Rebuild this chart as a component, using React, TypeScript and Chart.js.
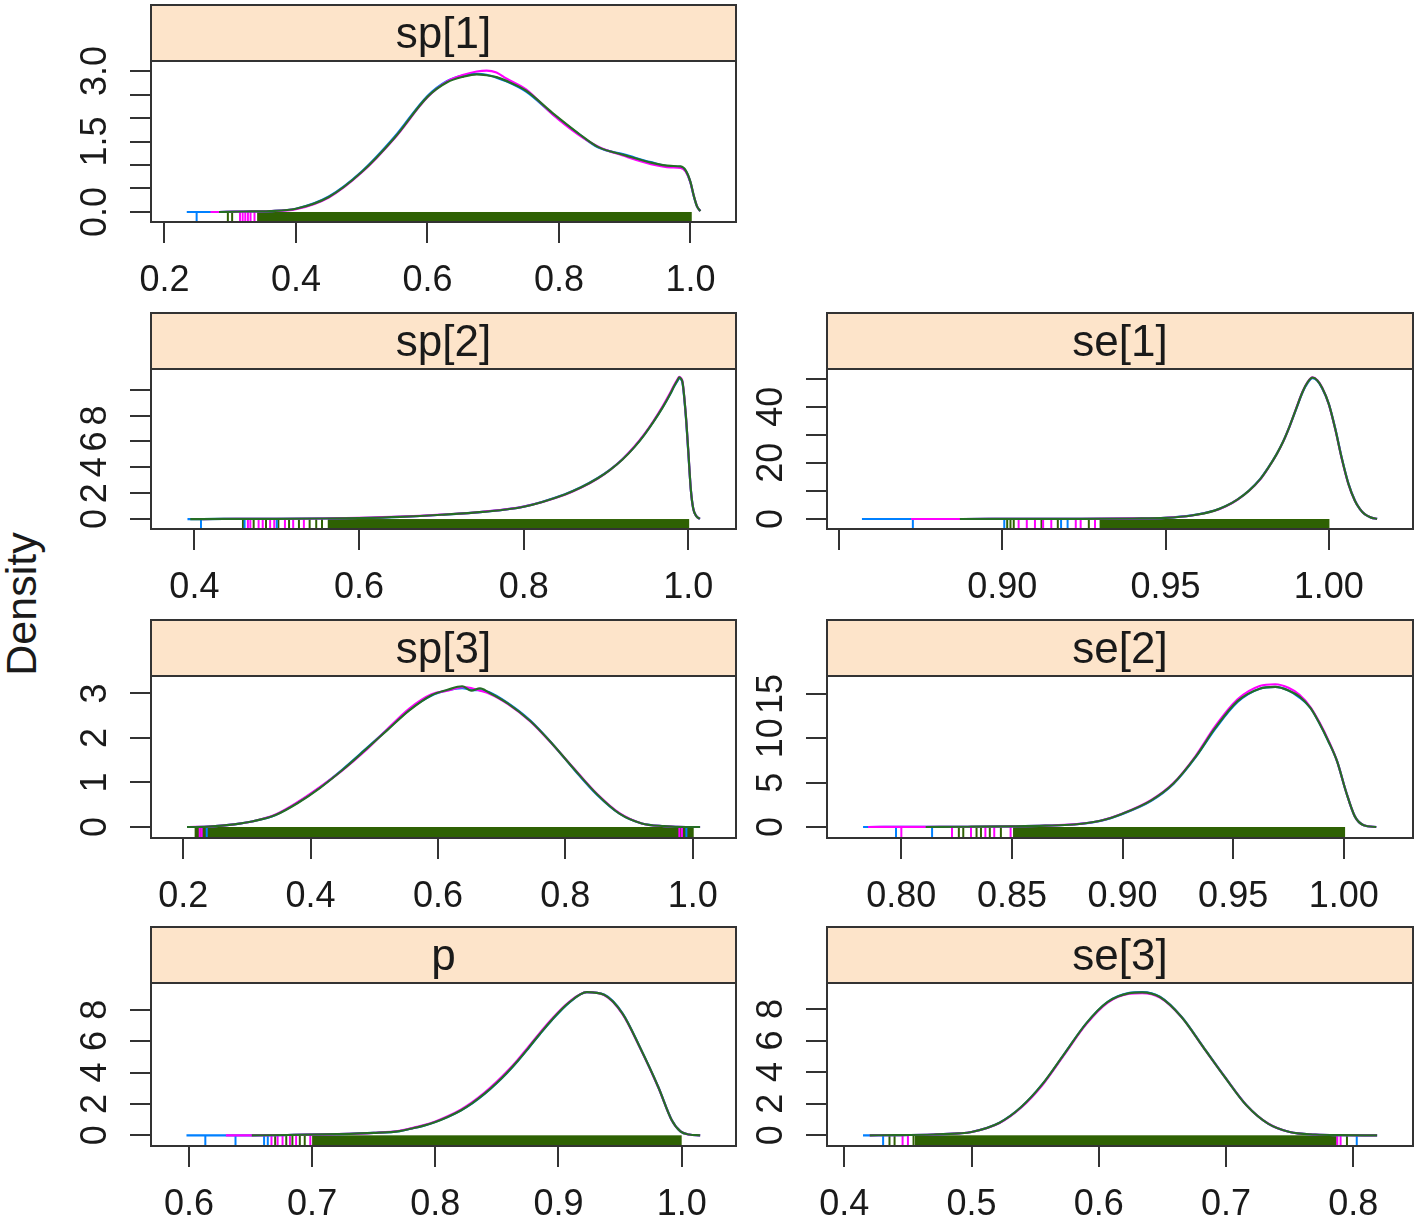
import { useEffect, useRef } from "react";
import { Chart, registerables } from "chart.js";

Chart.register(...registerables);

const FONT_FAMILY = '"Liberation Sans", Arial, Helvetica, sans-serif';

// ---------------- data: sp[1] ----------------
const SP1_X = [0.234, 0.270, 0.283, 0.320, 0.360, 0.400, 0.450, 0.500, 0.550, 0.600, 0.630, 0.655, 0.675, 0.690, 0.705, 0.720, 0.750, 0.790, 0.830, 0.860, 0.900, 0.940, 0.970, 0.985, 0.993, 1.000, 1.005, 1.010, 1.015];
const SP1_GREEN = [null, null, 0.00, 0.01, 0.02, 0.07, 0.32, 0.85, 1.58, 2.45, 2.76, 2.88, 2.93, 2.91, 2.87, 2.79, 2.58, 2.11, 1.67, 1.38, 1.21, 1.05, 0.98, 0.97, 0.88, 0.64, 0.35, 0.12, 0.02];
const SP1_BLUE = [0.00, 0.00, 0.00, 0.01, 0.02, 0.07, 0.33, 0.86, 1.60, 2.47, 2.79, 2.91, 2.94, 2.92, 2.86, 2.78, 2.56, 2.09, 1.66, 1.37, 1.22, 1.06, 0.97, 0.96, 0.87, 0.63, 0.34, 0.12, 0.02];
const SP1_MAGENTA = [null, 0.00, 0.00, 0.01, 0.02, 0.06, 0.31, 0.84, 1.57, 2.44, 2.78, 2.92, 2.99, 3.01, 2.97, 2.84, 2.61, 2.08, 1.64, 1.39, 1.19, 1.02, 0.95, 0.94, 0.86, 0.63, 0.35, 0.12, 0.02];
const SP1_X_RANGE = [0.1796, 1.0693];
const SP1_Y_RANGE = [-0.213, 3.213];
const SP1_X_TICKS = [0.2, 0.4, 0.6, 0.8, 1.0];
const SP1_X_LABELS = ["0.2", "0.4", "0.6", "0.8", "1.0"];
const SP1_Y_TICKS = [0, 0.5, 1, 1.5, 2, 2.5, 3];
const SP1_Y_LABELS = ["0.0", "", "", "1.5", "", "", "3.0"];
const SP1_RUG_BAND = [0.341, 1.002];
const SP1_RUG_BLUE = [0.249];
const SP1_RUG_MAGENTA = [0.315, 0.319, 0.323, 0.327, 0.331, 0.337];
const SP1_RUG_GREEN = [0.2965, 0.303];

// ---------------- data: sp[2] ----------------
const SP2_X = [0.3916, 0.395, 0.410, 0.450, 0.500, 0.550, 0.600, 0.650, 0.700, 0.750, 0.800, 0.850, 0.870, 0.890, 0.905, 0.920, 0.935, 0.947, 0.958, 0.969, 0.977, 0.983, 0.987, 0.989, 0.991, 0.993, 0.997, 1.000, 1.003, 1.006, 1.010, 1.014];
const SP2_GREEN = [null, 0, 0, 0.01, 0.02, 0.04, 0.08, 0.17, 0.33, 0.55, 0.95, 1.90, 2.45, 3.15, 3.80, 4.60, 5.60, 6.55, 7.55, 8.65, 9.55, 10.3, 10.75, 10.95, 10.85, 10.55, 8.0, 5.2, 2.3, 0.8, 0.2, 0.02];
const SP2_BLUE = [0, 0, 0, 0.01, 0.02, 0.04, 0.08, 0.17, 0.33, 0.56, 0.96, 1.92, 2.47, 3.17, 3.82, 4.62, 5.62, 6.57, 7.56, 8.66, 9.55, 10.28, 10.7, 10.9, 10.8, 10.5, 7.9, 5.1, 2.3, 0.8, 0.2, 0.02];
const SP2_MAGENTA = [null, null, 0, 0.01, 0.02, 0.04, 0.09, 0.18, 0.34, 0.56, 0.96, 1.88, 2.43, 3.13, 3.80, 4.62, 5.64, 6.60, 7.62, 8.74, 9.64, 10.38, 10.82, 11.0, 10.9, 10.6, 8.0, 5.2, 2.3, 0.8, 0.2, 0.02];
const SP2_X_RANGE = [0.3473, 1.0579];
const SP2_Y_RANGE = [-0.77, 11.6];
const SP2_X_TICKS = [0.4, 0.6, 0.8, 1.0];
const SP2_X_LABELS = ["0.4", "0.6", "0.8", "1.0"];
const SP2_Y_TICKS = [0, 2, 4, 6, 8, 10];
const SP2_Y_LABELS = ["0", "2", "4", "6", "8", ""];
const SP2_RUG_BAND = [0.562, 1.001];
const SP2_RUG_BLUE = [0.408, 0.461, 0.5];
const SP2_RUG_MAGENTA = [0.465, 0.468, 0.478, 0.483, 0.492, 0.497, 0.51, 0.52, 0.533];
const SP2_RUG_GREEN = [0.459, 0.472, 0.487, 0.502, 0.515, 0.527, 0.54, 0.548, 0.555];

// ---------------- data: se[1] ----------------
const SE1_X = [0.857, 0.872, 0.887, 0.900, 0.920, 0.940, 0.950, 0.958, 0.965, 0.9685, 0.972, 0.9755, 0.979, 0.9815, 0.984, 0.986, 0.988, 0.990, 0.992, 0.9935, 0.995, 0.9965, 0.998, 1.000, 1.002, 1.004, 1.006, 1.008, 1.0095, 1.011, 1.013, 1.0148];
const SE1_GREEN = [null, null, 0, 0.02, 0.06, 0.18, 0.40, 1.25, 3.0, 4.6, 6.9, 10.0, 14.2, 18.3, 23.0, 27.5, 33.0, 39.2, 45.3, 48.6, 50.3, 49.3, 46.6, 41.0, 32.0, 21.5, 12.6, 6.5, 3.6, 1.7, 0.5, 0.05];
const SE1_BLUE = [0, 0, 0, 0.02, 0.06, 0.18, 0.40, 1.26, 3.0, 4.62, 6.92, 10.05, 14.25, 18.35, 23.05, 27.55, 33.0, 39.15, 45.2, 48.4, 50.1, 49.2, 46.5, 41.0, 32.1, 21.6, 12.7, 6.6, 3.6, 1.7, 0.5, 0.05];
const SE1_MAGENTA = [null, 0, 0, 0.02, 0.06, 0.19, 0.41, 1.24, 2.95, 4.55, 6.85, 9.95, 14.1, 18.25, 22.95, 27.45, 33.0, 39.3, 45.4, 48.7, 50.4, 49.4, 46.7, 40.9, 31.9, 21.4, 12.5, 6.5, 3.6, 1.7, 0.5, 0.05];
const SE1_X_RANGE = [0.8463, 1.0258];
const SE1_Y_RANGE = [-3.56, 53.4];
const SE1_X_TICKS = [0.85, 0.9, 0.95, 1.0];
const SE1_X_LABELS = ["", "0.90", "0.95", "1.00"];
const SE1_Y_TICKS = [0, 10, 20, 30, 40, 50];
const SE1_Y_LABELS = ["0", "", "20", "", "40", ""];
const SE1_RUG_BAND = [0.9298, 1.0002];
const SE1_RUG_BLUE = [0.8726, 0.9006, 0.918, 0.92];
const SE1_RUG_MAGENTA = [0.905, 0.9075, 0.91, 0.9125, 0.915, 0.9225, 0.924, 0.9284];
const SE1_RUG_GREEN = [0.9015, 0.9025, 0.9035, 0.912, 0.917, 0.9265];

// ---------------- data: sp[3] ----------------
const SP3_X = [0.206, 0.209, 0.240, 0.280, 0.310, 0.345, 0.380, 0.415, 0.450, 0.485, 0.520, 0.555, 0.590, 0.615, 0.638, 0.652, 0.666, 0.680, 0.710, 0.745, 0.780, 0.815, 0.850, 0.885, 0.920, 0.955, 0.990, 1.0115];
const SP3_GREEN = [0, 0, 0.01, 0.06, 0.13, 0.27, 0.54, 0.88, 1.28, 1.72, 2.17, 2.62, 2.96, 3.08, 3.16, 3.06, 3.11, 3.02, 2.77, 2.38, 1.86, 1.28, 0.73, 0.30, 0.08, 0.02, 0.0, 0.0];
const SP3_BLUE = [0, 0, 0.01, 0.06, 0.13, 0.27, 0.55, 0.89, 1.29, 1.73, 2.18, 2.63, 2.95, 3.07, 3.12, 3.08, 3.07, 3.03, 2.78, 2.39, 1.86, 1.27, 0.72, 0.30, 0.08, 0.02, 0.0, 0.0];
const SP3_MAGENTA = [null, 0, 0.01, 0.06, 0.13, 0.28, 0.56, 0.90, 1.27, 1.70, 2.19, 2.66, 2.98, 3.06, 3.14, 3.12, 3.06, 3.00, 2.76, 2.37, 1.85, 1.29, 0.74, 0.31, 0.08, 0.02, 0.0, 0.0];
const SP3_X_RANGE = [0.1495, 1.0679];
const SP3_Y_RANGE = [-0.247, 3.39];
const SP3_X_TICKS = [0.2, 0.4, 0.6, 0.8, 1.0];
const SP3_X_LABELS = ["0.2", "0.4", "0.6", "0.8", "1.0"];
const SP3_Y_TICKS = [0, 1, 2, 3];
const SP3_Y_LABELS = ["0", "1", "2", "3"];
const SP3_RUG_BAND = [0.218, 1.0015];
const SP3_RUG_BLUE = [0.237, 0.99];
const SP3_RUG_MAGENTA = [0.226, 0.229, 0.979, 0.983];
const SP3_RUG_GREEN: number[] = [];

// ---------------- data: se[2] ----------------
const SE2_X = [0.7827, 0.785, 0.800, 0.811, 0.830, 0.850, 0.865, 0.878, 0.890, 0.900, 0.913, 0.923, 0.933, 0.942, 0.952, 0.962, 0.969, 0.975, 0.980, 0.985, 0.989, 0.993, 0.997, 1.001, 1.005, 1.009, 1.0147];
const SE2_GREEN = [null, null, null, 0, 0.03, 0.08, 0.15, 0.28, 0.70, 1.5, 3.0, 4.9, 7.9, 11.2, 14.2, 15.6, 15.8, 15.4, 14.7, 13.4, 11.7, 9.7, 7.4, 4.0, 1.2, 0.2, 0.0];
const SE2_BLUE = [0, 0, 0.01, 0.01, 0.03, 0.08, 0.15, 0.28, 0.69, 1.48, 2.95, 4.85, 7.85, 11.1, 14.1, 15.6, 15.8, 15.4, 14.6, 13.4, 11.7, 9.7, 7.4, 4.0, 1.2, 0.2, 0.0];
const SE2_MAGENTA = [null, 0, 0.01, 0.01, 0.03, 0.08, 0.15, 0.29, 0.71, 1.52, 3.05, 4.95, 8.0, 11.4, 14.4, 15.9, 16.1, 15.7, 14.9, 13.5, 11.8, 9.8, 7.4, 4.0, 1.2, 0.2, 0.0];
const SE2_X_RANGE = [0.7664, 1.0313];
const SE2_Y_RANGE = [-1.24, 17.03];
const SE2_X_TICKS = [0.8, 0.85, 0.9, 0.95, 1.0];
const SE2_X_LABELS = ["0.80", "0.85", "0.90", "0.95", "1.00"];
const SE2_Y_TICKS = [0, 5, 10, 15];
const SE2_Y_LABELS = ["0", "5", "10", "15"];
const SE2_RUG_BAND = [0.8505, 1.0006];
const SE2_RUG_BLUE = [0.7976, 0.8139];
const SE2_RUG_MAGENTA = [0.8, 0.8229, 0.8315, 0.838, 0.842, 0.8494];
const SE2_RUG_GREEN = [0.826, 0.828, 0.834, 0.836, 0.84, 0.845];

// ---------------- data: p ----------------
const P_X = [0.598, 0.630, 0.651, 0.680, 0.720, 0.750, 0.771, 0.780, 0.790, 0.800, 0.810, 0.821, 0.830, 0.840, 0.850, 0.858, 0.867, 0.876, 0.885, 0.894, 0.9085, 0.923, 0.937, 0.952, 0.966, 0.981, 0.992, 0.999, 1.006, 1.015];
const P_GREEN = [null, null, 0, 0.02, 0.07, 0.15, 0.27, 0.42, 0.60, 0.85, 1.17, 1.60, 2.05, 2.65, 3.35, 3.97, 4.75, 5.60, 6.47, 7.30, 8.45, 9.12, 8.95, 7.75, 5.62, 3.08, 0.96, 0.25, 0.05, 0];
const P_BLUE = [0, 0, 0, 0.02, 0.07, 0.15, 0.27, 0.42, 0.60, 0.85, 1.16, 1.59, 2.03, 2.63, 3.33, 3.95, 4.73, 5.58, 6.45, 7.28, 8.44, 9.12, 8.96, 7.77, 5.63, 3.08, 0.96, 0.25, 0.05, 0];
const P_MAGENTA = [null, 0, 0, 0.02, 0.07, 0.16, 0.29, 0.44, 0.63, 0.88, 1.21, 1.65, 2.11, 2.72, 3.42, 4.04, 4.82, 5.68, 6.54, 7.36, 8.49, 9.12, 8.93, 7.72, 5.60, 3.06, 0.95, 0.25, 0.05, 0];
const P_X_RANGE = [0.5692, 1.0441];
const P_Y_RANGE = [-0.68, 9.7];
const P_X_TICKS = [0.6, 0.7, 0.8, 0.9, 1.0];
const P_X_LABELS = ["0.6", "0.7", "0.8", "0.9", "1.0"];
const P_Y_TICKS = [0, 2, 4, 6, 8];
const P_Y_LABELS = ["0", "2", "4", "6", "8"];
const P_RUG_BAND = [0.7, 1.0];
const P_RUG_BLUE = [0.6133, 0.6378, 0.661, 0.664];
const P_RUG_MAGENTA = [0.667, 0.672, 0.676, 0.682, 0.687, 0.6985];
const P_RUG_GREEN = [0.67, 0.679, 0.684, 0.69, 0.694];

// ---------------- data: se[3] ----------------
const SE3_X = [0.4147, 0.420, 0.440, 0.470, 0.490, 0.500, 0.522, 0.539, 0.556, 0.573, 0.590, 0.607, 0.624, 0.634, 0.648, 0.665, 0.682, 0.699, 0.716, 0.733, 0.750, 0.770, 0.790, 0.8187];
const SE3_GREEN = [null, 0, 0.01, 0.05, 0.12, 0.21, 0.80, 1.79, 3.27, 5.17, 7.07, 8.44, 9.00, 9.05, 8.75, 7.49, 5.59, 3.69, 1.90, 0.74, 0.21, 0.05, 0.01, 0];
const SE3_BLUE = [0, 0, 0.01, 0.05, 0.12, 0.21, 0.80, 1.78, 3.26, 5.16, 7.07, 8.45, 9.02, 9.07, 8.77, 7.50, 5.60, 3.70, 1.91, 0.74, 0.21, 0.05, 0.01, 0];
const SE3_MAGENTA = [null, 0, 0.01, 0.05, 0.12, 0.21, 0.78, 1.76, 3.22, 5.12, 7.02, 8.40, 8.96, 9.00, 8.72, 7.48, 5.58, 3.70, 1.91, 0.75, 0.21, 0.05, 0.01, 0];
const SE3_X_RANGE = [0.3864, 0.8469];
const SE3_Y_RANGE = [-0.677, 9.64];
const SE3_X_TICKS = [0.4, 0.5, 0.6, 0.7, 0.8];
const SE3_X_LABELS = ["0.4", "0.5", "0.6", "0.7", "0.8"];
const SE3_Y_TICKS = [0, 2, 4, 6, 8];
const SE3_Y_LABELS = ["0", "2", "4", "6", "8"];
const SE3_RUG_BAND = [0.4555, 0.787];
const SE3_RUG_BLUE = [0.4305, 0.8027];
const SE3_RUG_MAGENTA = [0.4458, 0.45, 0.7874, 0.79];
const SE3_RUG_GREEN = [0.4355, 0.4395, 0.4544, 0.795];

const Y_AXIS_LABEL = "Density";

// ---------------- styling / layout ----------------
const BLUE = "#0080ff";
const MAGENTA = "#ff00ff";
const GREEN = "#256d25";
const RUG_GREEN = "#2e6103";
const STRIP_BG = "#fde4ca";
const FRAME = "#333333";
const TEXT = "#1a1a1a";

const TICK_FONT = 36;
const STRIP_FONT = 44;
const STRIP_TEXT_SHIFT = 3;
const TICK_LEN = 21;
const Y_LABEL_GAP = 55.3;
const X_LABEL_GAP = 59;
const Y_AXIS_W = 111;
const X_AXIS_H = 80;
const PAD_R = 5;
const PAD_T = 3;

const COLS = [
  { left: 151, right: 736 },
  { left: 827, right: 1413 },
];
const ROWS = [
  { stripTop: 5, plotTop: 61, plotBottom: 222 },
  { stripTop: 313, plotTop: 369, plotBottom: 529 },
  { stripTop: 620, plotTop: 676, plotBottom: 838 },
  { stripTop: 927, plotTop: 983, plotBottom: 1146 },
];

type PanelDef = {
  name: string;
  col: number;
  row: number;
  x: number[];
  green: (number | null)[];
  blue: (number | null)[];
  magenta: (number | null)[];
  xRange: number[];
  yRange: number[];
  xTicks: number[];
  xLabels: string[];
  yTicks: number[];
  yLabels: string[];
  rugBand: number[];
  rugBlue: number[];
  rugMagenta: number[];
  rugGreen: number[];
};

const PANELS: PanelDef[] = [
  { name: "sp[1]", col: 0, row: 0, x: SP1_X, green: SP1_GREEN, blue: SP1_BLUE, magenta: SP1_MAGENTA, xRange: SP1_X_RANGE, yRange: SP1_Y_RANGE, xTicks: SP1_X_TICKS, xLabels: SP1_X_LABELS, yTicks: SP1_Y_TICKS, yLabels: SP1_Y_LABELS, rugBand: SP1_RUG_BAND, rugBlue: SP1_RUG_BLUE, rugMagenta: SP1_RUG_MAGENTA, rugGreen: SP1_RUG_GREEN },
  { name: "sp[2]", col: 0, row: 1, x: SP2_X, green: SP2_GREEN, blue: SP2_BLUE, magenta: SP2_MAGENTA, xRange: SP2_X_RANGE, yRange: SP2_Y_RANGE, xTicks: SP2_X_TICKS, xLabels: SP2_X_LABELS, yTicks: SP2_Y_TICKS, yLabels: SP2_Y_LABELS, rugBand: SP2_RUG_BAND, rugBlue: SP2_RUG_BLUE, rugMagenta: SP2_RUG_MAGENTA, rugGreen: SP2_RUG_GREEN },
  { name: "se[1]", col: 1, row: 1, x: SE1_X, green: SE1_GREEN, blue: SE1_BLUE, magenta: SE1_MAGENTA, xRange: SE1_X_RANGE, yRange: SE1_Y_RANGE, xTicks: SE1_X_TICKS, xLabels: SE1_X_LABELS, yTicks: SE1_Y_TICKS, yLabels: SE1_Y_LABELS, rugBand: SE1_RUG_BAND, rugBlue: SE1_RUG_BLUE, rugMagenta: SE1_RUG_MAGENTA, rugGreen: SE1_RUG_GREEN },
  { name: "sp[3]", col: 0, row: 2, x: SP3_X, green: SP3_GREEN, blue: SP3_BLUE, magenta: SP3_MAGENTA, xRange: SP3_X_RANGE, yRange: SP3_Y_RANGE, xTicks: SP3_X_TICKS, xLabels: SP3_X_LABELS, yTicks: SP3_Y_TICKS, yLabels: SP3_Y_LABELS, rugBand: SP3_RUG_BAND, rugBlue: SP3_RUG_BLUE, rugMagenta: SP3_RUG_MAGENTA, rugGreen: SP3_RUG_GREEN },
  { name: "se[2]", col: 1, row: 2, x: SE2_X, green: SE2_GREEN, blue: SE2_BLUE, magenta: SE2_MAGENTA, xRange: SE2_X_RANGE, yRange: SE2_Y_RANGE, xTicks: SE2_X_TICKS, xLabels: SE2_X_LABELS, yTicks: SE2_Y_TICKS, yLabels: SE2_Y_LABELS, rugBand: SE2_RUG_BAND, rugBlue: SE2_RUG_BLUE, rugMagenta: SE2_RUG_MAGENTA, rugGreen: SE2_RUG_GREEN },
  { name: "p", col: 0, row: 3, x: P_X, green: P_GREEN, blue: P_BLUE, magenta: P_MAGENTA, xRange: P_X_RANGE, yRange: P_Y_RANGE, xTicks: P_X_TICKS, xLabels: P_X_LABELS, yTicks: P_Y_TICKS, yLabels: P_Y_LABELS, rugBand: P_RUG_BAND, rugBlue: P_RUG_BLUE, rugMagenta: P_RUG_MAGENTA, rugGreen: P_RUG_GREEN },
  { name: "se[3]", col: 1, row: 3, x: SE3_X, green: SE3_GREEN, blue: SE3_BLUE, magenta: SE3_MAGENTA, xRange: SE3_X_RANGE, yRange: SE3_Y_RANGE, xTicks: SE3_X_TICKS, xLabels: SE3_X_LABELS, yTicks: SE3_Y_TICKS, yLabels: SE3_Y_LABELS, rugBand: SE3_RUG_BAND, rugBlue: SE3_RUG_BLUE, rugMagenta: SE3_RUG_MAGENTA, rugGreen: SE3_RUG_GREEN },
];

function PanelChart({ p }: { p: PanelDef }) {
  const ref = useRef<HTMLCanvasElement>(null);
  const col = COLS[p.col];
  const row = ROWS[p.row];
  const left = col.left - Y_AXIS_W;
  const top = row.stripTop - PAD_T;
  const width = col.right - col.left + Y_AXIS_W + PAD_R;
  const height = row.plotBottom - top + X_AXIS_H;
  const stripH = row.plotTop - row.stripTop;

  useEffect(() => {
    const canvas = ref.current;
    if (!canvas) return;
    const mctx = document.createElement("canvas").getContext("2d")!;
    mctx.font = `${TICK_FONT}px ${FONT_FAMILY}`;
    const widest = Math.max(...p.yLabels.map((l) => mctx.measureText(l).width));
    const yPad = Y_LABEL_GAP - TICK_LEN - widest / 2;
    const xPad = X_LABEL_GAP - TICK_LEN - TICK_FONT / 2;

    const series = [
      { ys: p.green, color: GREEN },
      { ys: p.magenta, color: MAGENTA },
      { ys: p.blue, color: BLUE },
    ];
    const datasets = series.map((s) => ({
      data: p.x
        .map((x, i) => ({ x, y: s.ys[i] }))
        .filter((d) => d.y !== null && d.y !== undefined),
      borderColor: s.color,
      borderWidth: 2.2,
      pointRadius: 0,
      pointHoverRadius: 0,
      fill: false,
      cubicInterpolationMode: "monotone" as const,
    }));

    const latticePlugin = {
      id: "latticePanel",
      beforeDatasetsDraw(chart: any) {
        const { ctx, chartArea: a, scales } = chart;
        const xs = scales.x;
        const ys = scales.y;
        const y0 = ys.getPixelForValue(0);
        ctx.save();
        ctx.beginPath();
        ctx.rect(a.left, a.top, a.right - a.left, a.bottom - a.top);
        ctx.clip();
        const bx0 = xs.getPixelForValue(p.rugBand[0]);
        const bx1 = xs.getPixelForValue(p.rugBand[1]);
        ctx.fillStyle = RUG_GREEN;
        ctx.fillRect(bx0, y0, bx1 - bx0, a.bottom - y0);
        const ticks = (vals: number[], color: string) => {
          ctx.strokeStyle = color;
          ctx.lineWidth = 2;
          for (const v of vals) {
            const px = xs.getPixelForValue(v);
            ctx.beginPath();
            ctx.moveTo(px, y0);
            ctx.lineTo(px, a.bottom);
            ctx.stroke();
          }
        };
        ticks(p.rugGreen, RUG_GREEN);
        ticks(p.rugBlue, BLUE);
        ticks(p.rugMagenta, MAGENTA);
        ctx.restore();
      },
      afterDraw(chart: any) {
        const { ctx, chartArea: a } = chart;
        const w = a.right - a.left;
        ctx.save();
        ctx.fillStyle = STRIP_BG;
        ctx.fillRect(a.left, a.top - stripH, w, stripH);
        ctx.strokeStyle = FRAME;
        ctx.lineWidth = 2;
        ctx.strokeRect(a.left, a.top - stripH, w, stripH);
        ctx.strokeRect(a.left, a.top, w, a.bottom - a.top);
        ctx.fillStyle = TEXT;
        ctx.font = `${STRIP_FONT}px ${FONT_FAMILY}`;
        ctx.textAlign = "center";
        ctx.textBaseline = "middle";
        ctx.fillText(p.name, (a.left + a.right) / 2, a.top - stripH / 2 + STRIP_TEXT_SHIFT);
        ctx.restore();
      },
    };

    const chart = new Chart(canvas, {
      type: "line",
      data: { datasets },
      options: {
        responsive: false,
        animation: false,
        events: [],
        layout: { padding: { top: row.plotTop - top, right: PAD_R, left: 0, bottom: 0 } },
        plugins: { legend: { display: false }, tooltip: { enabled: false }, title: { display: false } },
        scales: {
          x: {
            type: "linear",
            position: "bottom",
            min: p.xRange[0],
            max: p.xRange[1],
            afterBuildTicks: (s: any) => {
              s.ticks = p.xTicks.map((v) => ({ value: v }));
            },
            afterFit: (s: any) => {
              s.height = X_AXIS_H;
            },
            grid: { drawOnChartArea: false, drawTicks: true, tickLength: TICK_LEN, color: FRAME, lineWidth: 2 },
            border: { display: false },
            ticks: {
              autoSkip: false,
              maxRotation: 0,
              minRotation: 0,
              padding: xPad,
              color: TEXT,
              font: { family: FONT_FAMILY, size: TICK_FONT, lineHeight: 1 },
              callback: (_v: any, i: number) => p.xLabels[i] ?? "",
            },
          },
          y: {
            type: "linear",
            position: "left",
            min: p.yRange[0],
            max: p.yRange[1],
            afterBuildTicks: (s: any) => {
              s.ticks = p.yTicks.map((v) => ({ value: v }));
            },
            afterFit: (s: any) => {
              s.width = Y_AXIS_W;
            },
            grid: { drawOnChartArea: false, drawTicks: true, tickLength: TICK_LEN, color: FRAME, lineWidth: 2 },
            border: { display: false },
            ticks: {
              autoSkip: false,
              minRotation: 90,
              maxRotation: 90,
              crossAlign: "center",
              padding: yPad,
              color: TEXT,
              font: { family: FONT_FAMILY, size: TICK_FONT, lineHeight: 1 },
              callback: (_v: any, i: number) => p.yLabels[i] ?? "",
            },
          },
        },
      },
      plugins: [latticePlugin],
    } as any);
    return () => chart.destroy();
  }, []);

  return (
    <canvas
      ref={ref}
      width={width}
      height={height}
      style={{ position: "absolute", left, top, width, height }}
    />
  );
}

export default function App() {
  return (
    <div
      style={{
        position: "absolute",
        left: 0,
        top: 0,
        width: 1418,
        height: 1219,
        overflow: "hidden",
        background: "#ffffff",
      }}
    >
      <div
        style={{
          position: "absolute",
          left: 21 - 110,
          top: 604 - 25,
          width: 220,
          height: 50,
          lineHeight: "50px",
          fontSize: 43,
          fontFamily: FONT_FAMILY,
          textAlign: "center",
          color: TEXT,
          transform: "rotate(-90deg)",
          whiteSpace: "nowrap",
        }}
      >
        {Y_AXIS_LABEL}
      </div>
      {PANELS.map((p) => (
        <PanelChart key={p.name} p={p} />
      ))}
    </div>
  );
}
